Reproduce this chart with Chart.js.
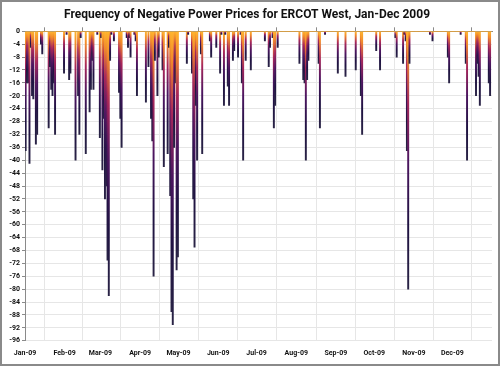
<!DOCTYPE html>
<html>
<head>
<meta charset="utf-8">
<title>ERCOT West negative prices 2009</title>
<script src="https://cdn.jsdelivr.net/npm/chart.js@4.4.1/dist/chart.umd.min.js"></script>
<style>
    html, body { margin: 0; padding: 0; background: #ffffff; }
    #frame { width: 500px; height: 366px; box-sizing: border-box; border: 2px solid #8a8a8a; background: #ffffff; }
    canvas { display: block; }
</style>
</head>
<body>
<div id="frame"><canvas id="negPriceChart" width="496" height="362"></canvas></div>
<script>
    // Daily minimum price readings (negative $/MWh counts), one array per month
    var jan = [-37, -16, -16, -41, -5, -20, -21, 0, -35, -32, 0, 0, -4, -7, 0, 0, 0, 0, -30, -11, -18, -20, -16, -32, 0, 0, 0, 0, 0, 0, -13];
    var feb = [0, -1, 0, -15, -13, 0, 0, 0, -40, 0, -20, -32, -2, 0, 0, 0, -38, 0, 0, -25, -18, -9, -18, 0, 0, -1, 0, -33];
    var mar = [-2, -43, -27, -52, -48, -71, -82, -9, -1, 0, -3, 0, 0, 0, -19, -27, -36, 0, 0, 0, -2, -5, -2, -8, 0, 0, -1, -3, -20, 0, 0];
    var apr = [0, 0, 0, 0, -22, 0, -11, 0, -27, -34, -76, -9, 0, -20, -8, 0, 0, -12, -42, 0, 0, -38, -5, -51, -87, -91, -36, -16, -74, -70];
    var may = [0, 0, 0, 0, 0, 0, -10, -1, 0, 0, -13, -52, -67, -23, -40, 0, 0, -7, -38, 0, 0, 0, 0, 0, -3, -8, 0, 0, 0, -5, 0];
    var jun = [0, -13, -1, 0, -23, -1, 0, -17, -23, 0, 0, -9, -6, 0, 0, -8, 0, -1, -16, -40, 0, -9, 0, 0, 0, -12, 0, 0, 0, 0];
    var jul = [0, 0, 0, 0, 0, 0, -3, 0, 0, -11, -5, 0, -2, -30, -23, 0, -5, 0, 0, 0, 0, 0, 0, 0, 0, 0, 0, 0, 0, 0, 0];
    var aug = [0, 0, -10, 0, 0, -15, -16, -40, -15, -9, 0, 0, 0, 0, 0, 0, 0, -10, -30, 0, 0, 0, -1, 0, 0, 0, 0, 0, 0, 0, 0];
    var sep = [0, -13, 0, 0, 0, 0, 0, -14, 0, 0, 0, 0, 0, 0, 0, -12, 0, 0, 0, -20, -32, 0, 0, 0, 0, 0, 0, 0, 0, 0];
    var oct = [0, -6, 0, 0, -12, 0, 0, 0, 0, 0, 0, 0, 0, 0, 0, 0, -2, -8, 0, 0, 0, 0, -10, -1, -3, -37, -80, -10, 0, 0, 0];
    var nov = [0, 0, 0, 0, 0, 0, 0, 0, 0, 0, 0, 0, -1, 0, -3, 0, 0, 0, 0, 0, 0, 0, 0, 0, 0, 0, -8, -16, 0, 0];
    var dec = [0, 0, 0, 0, 0, 0, -1, 0, 0, 0, -10, -40, 0, 0, 0, 0, 0, 0, -20, -10, -14, -23, 0, 0, 0, 0, 0, 0, -16, -20, 0];

    // x axis: month tick labels and the day-of-year each month starts on
    var monthLabels = ['Jan-09', 'Feb-09', 'Mar-09', 'Apr-09', 'May-09', 'Jun-09', 'Jul-09', 'Aug-09', 'Sep-09', 'Oct-09', 'Nov-09', 'Dec-09'];
    var monthStarts = [0, 31, 59, 90, 120, 151, 181, 212, 243, 273, 304, 334];

    var dailyValues = jan.concat(feb, mar, apr, may, jun, jul, aug, sep, oct, nov, dec);
    var points = dailyValues.map(function (v, i) {
        return { x: i + 0.5, y: v };
    });

    var tickFont = { family: 'Roboto', weight: 'bold', size: 7 };
    var gradCache = {};

    /**
     * Each bar gets its own orange -> dark purple gradient, from the zero line to its tip.
     */
    function barFill(context) {
        var chart = context.chart;
        if (!chart.chartArea || !context.parsed || !context.parsed.y) {
            return '#f5a62a';
        }
        var yScale = chart.scales.y;
        var y0 = yScale.getPixelForValue(0);
        var y1 = yScale.getPixelForValue(context.parsed.y);
        var key = y0 + '|' + y1;
        if (!gradCache[key]) {
            var g = chart.ctx.createLinearGradient(0, y0, 0, y1);
            g.addColorStop(0, '#ffb52e');
            g.addColorStop(0.1, '#f28a2a');
            g.addColorStop(0.28, '#a8265a');
            g.addColorStop(0.5, '#4c1560');
            g.addColorStop(0.75, '#1f1242');
            g.addColorStop(1, '#2a2446');
            gradCache[key] = g;
        }
        return gradCache[key];
    }

    function monthTicks(scale) {
        scale.ticks = monthStarts.map(function (d) {
            return { value: d };
        });
    }

    new Chart(document.getElementById('negPriceChart').getContext('2d'), {
        type: 'bar',
        data: {
            datasets: [{
                label: 'Negative prices',
                data: points,
                backgroundColor: barFill,
                borderWidth: 0,
                barPercentage: 1,
                categoryPercentage: 1
            }]
        },
        options: {
            responsive: false,
            animation: false,
            layout: { padding: { left: 0, right: 6, top: 0, bottom: 0 } },
            plugins: {
                legend: { display: false },
                tooltip: { enabled: false },
                title: {
                    display: true,
                    text: 'Frequency of Negative Power Prices for ERCOT West, Jan-Dec 2009',
                    color: '#111111',
                    font: { family: 'Roboto', weight: 'bold', size: 12 },
                    padding: { top: 6, bottom: 4.9 }
                }
            },
            scales: {
                x: {
                    type: 'linear',
                    position: 'bottom',
                    min: 0,
                    max: 365,
                    offset: false,
                    afterBuildTicks: monthTicks,
                    ticks: {
                        autoSkip: false,
                        maxRotation: 0,
                        padding: 8,
                        color: '#111111',
                        font: tickFont,
                        callback: function (val, idx) {
                            return monthLabels[idx];
                        }
                    },
                    grid: { color: '#e6e6e6', drawTicks: false },
                    border: { display: false },
                    afterFit: function (scale) { scale.height = 23.3; }
                },
                xTop: {
                    type: 'linear',
                    position: 'top',
                    min: 0,
                    max: 365,
                    offset: false,
                    afterBuildTicks: monthTicks,
                    ticks: { display: false },
                    grid: { drawOnChartArea: false, tickLength: 4, color: '#8a8a8a' },
                    border: { color: '#8a8a8a' },
                    afterFit: function (scale) { scale.height = 4; }
                },
                y: {
                    min: -96,
                    max: 0,
                    ticks: { stepSize: 4, padding: 2, color: '#111111', font: tickFont },
                    grid: {
                        color: function (ctx) {
                            return ctx.tick && ctx.tick.value === 0 ? '#8a8a8a' : '#e6e6e6';
                        },
                        tickColor: '#8a8a8a',
                        tickLength: 3
                    },
                    border: { color: '#8a8a8a' },
                    afterFit: function (scale) { scale.width = 23; }
                }
            }
        }
    });
</script>
</body>
</html>
